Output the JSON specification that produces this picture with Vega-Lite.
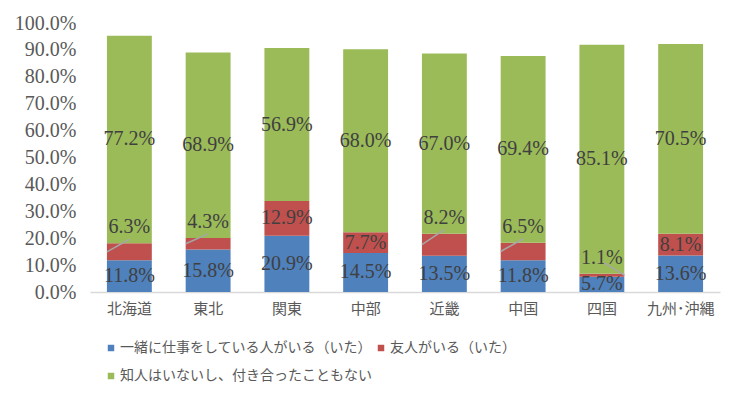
{
  "$schema": "https://vega.github.io/schema/vega-lite/v6.json",
  "width": 630,
  "height": 269,
  "autosize": {"type": "none"},
  "padding": {"left": 90, "top": 23, "right": 22, "bottom": 106},
  "background": "white",
  "config": {"view": {"stroke": null}, "axis": {"grid": false, "ticks": false, "title": null}},
  "data": {"values": [
    {"region": "北海道", "series": "一緒に仕事をしている人がいる（いた）", "value": 11.8},
    {"region": "北海道", "series": "友人がいる（いた）", "value": 6.3},
    {"region": "北海道", "series": "知人はいないし、付き合ったこともない", "value": 77.2},
    {"region": "東北", "series": "一緒に仕事をしている人がいる（いた）", "value": 15.8},
    {"region": "東北", "series": "友人がいる（いた）", "value": 4.3},
    {"region": "東北", "series": "知人はいないし、付き合ったこともない", "value": 68.9},
    {"region": "関東", "series": "一緒に仕事をしている人がいる（いた）", "value": 20.9},
    {"region": "関東", "series": "友人がいる（いた）", "value": 12.9},
    {"region": "関東", "series": "知人はいないし、付き合ったこともない", "value": 56.9},
    {"region": "中部", "series": "一緒に仕事をしている人がいる（いた）", "value": 14.5},
    {"region": "中部", "series": "友人がいる（いた）", "value": 7.7},
    {"region": "中部", "series": "知人はいないし、付き合ったこともない", "value": 68.0},
    {"region": "近畿", "series": "一緒に仕事をしている人がいる（いた）", "value": 13.5},
    {"region": "近畿", "series": "友人がいる（いた）", "value": 8.2},
    {"region": "近畿", "series": "知人はいないし、付き合ったこともない", "value": 67.0},
    {"region": "中国", "series": "一緒に仕事をしている人がいる（いた）", "value": 11.8},
    {"region": "中国", "series": "友人がいる（いた）", "value": 6.5},
    {"region": "中国", "series": "知人はいないし、付き合ったこともない", "value": 69.4},
    {"region": "四国", "series": "一緒に仕事をしている人がいる（いた）", "value": 5.7},
    {"region": "四国", "series": "友人がいる（いた）", "value": 1.1},
    {"region": "四国", "series": "知人はいないし、付き合ったこともない", "value": 85.1},
    {"region": "九州･沖縄", "series": "一緒に仕事をしている人がいる（いた）", "value": 13.6},
    {"region": "九州･沖縄", "series": "友人がいる（いた）", "value": 8.1},
    {"region": "九州･沖縄", "series": "知人はいないし、付き合ったこともない", "value": 70.5}
  ]},
  "transform": [
    {"calculate": "indexof(['一緒に仕事をしている人がいる（いた）','友人がいる（いた）','知人はいないし、付き合ったこともない'], datum.series)", "as": "k"},
    {"stack": "value", "groupby": ["region"], "sort": [{"field": "k", "order": "ascending"}], "as": ["y0", "y1"]},
    {"calculate": "(datum.y0 + datum.y1) / 2", "as": "mid"},
    {"calculate": "format(datum.value, '.1f') + '%'", "as": "label"},
    {"calculate": "datum.k == 1 && indexof(['北海道','東北','近畿','中国','四国'], datum.region) >= 0", "as": "disp"},
    {"calculate": "datum.y1 + 1.5", "as": "lt"},
    {"calculate": "datum.y1 + 4", "as": "lt2"}
  ],
  "encoding": {
    "x": {
      "field": "region", "type": "nominal",
      "sort": ["北海道", "東北", "関東", "中部", "近畿", "中国", "四国", "九州･沖縄"],
      "scale": {"paddingInner": 0.43, "paddingOuter": 0.215},
      "axis": {"labelAngle": 0, "domainColor": "#D9D9D9", "domainWidth": 1.5, "labelFont": "Noto Sans CJK JP", "labelFontSize": 15, "labelColor": "#595959", "labelPadding": 9}
    }
  },
  "layer": [
    {
      "mark": {"type": "bar"},
      "encoding": {
        "y": {"field": "y0", "type": "quantitative", "scale": {"domain": [0, 100]},
          "axis": {"values": [0, 10, 20, 30, 40, 50, 60, 70, 80, 90, 100], "labelOverlap": false, "labelExpr": "format(datum.value, '.1f') + '%'", "domain": false, "labelFont": "Liberation Serif", "labelFontSize": 20, "labelColor": "#595959", "labelPadding": 14}},
        "y2": {"field": "y1"},
        "color": {"field": "series", "type": "nominal",
          "scale": {"domain": ["一緒に仕事をしている人がいる（いた）", "友人がいる（いた）", "知人はいないし、付き合ったこともない"], "range": ["#4F81BD", "#C0504D", "#9BBB59"]},
          "legend": {"title": null, "orient": "none", "legendX": 14, "legendY": 318, "direction": "horizontal", "columns": 2, "symbolType": "square", "symbolSize": 42, "symbolStrokeWidth": 0, "labelFont": "Noto Sans CJK JP", "labelFontSize": 14, "labelColor": "#595959", "labelLimit": 400, "labelOffset": 2, "columnPadding": 2, "rowPadding": 14}}
      }
    },
    {
      "transform": [{"filter": "!datum.disp"}],
      "mark": {"type": "text", "font": "Liberation Serif", "fontSize": 20, "color": "#404040", "baseline": "middle"},
      "encoding": {"y": {"field": "mid", "type": "quantitative", "axis": {"values": [0, 10, 20, 30, 40, 50, 60, 70, 80, 90, 100], "labelOverlap": false, "labelExpr": "format(datum.value, '.1f') + '%'", "domain": false, "labelFont": "Liberation Serif", "labelFontSize": 20, "labelColor": "#595959", "labelPadding": 14}}, "text": {"field": "label"}}
    },
    {
      "transform": [{"filter": "datum.disp"}],
      "mark": {"type": "text", "font": "Liberation Serif", "fontSize": 20, "color": "#404040", "baseline": "middle", "dy": -16},
      "encoding": {"y": {"field": "y1", "type": "quantitative", "axis": {"values": [0, 10, 20, 30, 40, 50, 60, 70, 80, 90, 100], "labelOverlap": false, "labelExpr": "format(datum.value, '.1f') + '%'", "domain": false, "labelFont": "Liberation Serif", "labelFontSize": 20, "labelColor": "#595959", "labelPadding": 14}}, "text": {"field": "label"}}
    },
    {
      "transform": [{"filter": "datum.disp && datum.region != '四国'"}],
      "mark": {"type": "rule", "color": "#A6A6A6", "strokeWidth": 1.5},
      "encoding": {
        "x": {"field": "region", "type": "nominal", "sort": ["北海道", "東北", "関東", "中部", "近畿", "中国", "四国", "九州･沖縄"], "bandPosition": 0},
        "x2": {"field": "region", "bandPosition": 0.5},
        "y": {"field": "mid", "type": "quantitative", "axis": {"values": [0, 10, 20, 30, 40, 50, 60, 70, 80, 90, 100], "labelOverlap": false, "labelExpr": "format(datum.value, '.1f') + '%'", "domain": false, "labelFont": "Liberation Serif", "labelFontSize": 20, "labelColor": "#595959", "labelPadding": 14}},
        "y2": {"field": "lt"}
      }
    },
    {
      "transform": [{"filter": "datum.disp && datum.region == '四国'"}],
      "mark": {"type": "rule", "color": "#A6A6A6", "strokeWidth": 1.5},
      "encoding": {
        "x": {"field": "region", "type": "nominal", "sort": ["北海道", "東北", "関東", "中部", "近畿", "中国", "四国", "九州･沖縄"], "bandPosition": 0.55},
        "x2": {"field": "region", "bandPosition": 1},
        "y": {"field": "lt2", "type": "quantitative", "axis": {"values": [0, 10, 20, 30, 40, 50, 60, 70, 80, 90, 100], "labelOverlap": false, "labelExpr": "format(datum.value, '.1f') + '%'", "domain": false, "labelFont": "Liberation Serif", "labelFontSize": 20, "labelColor": "#595959", "labelPadding": 14}},
        "y2": {"field": "mid"}
      }
    }
  ]
}
